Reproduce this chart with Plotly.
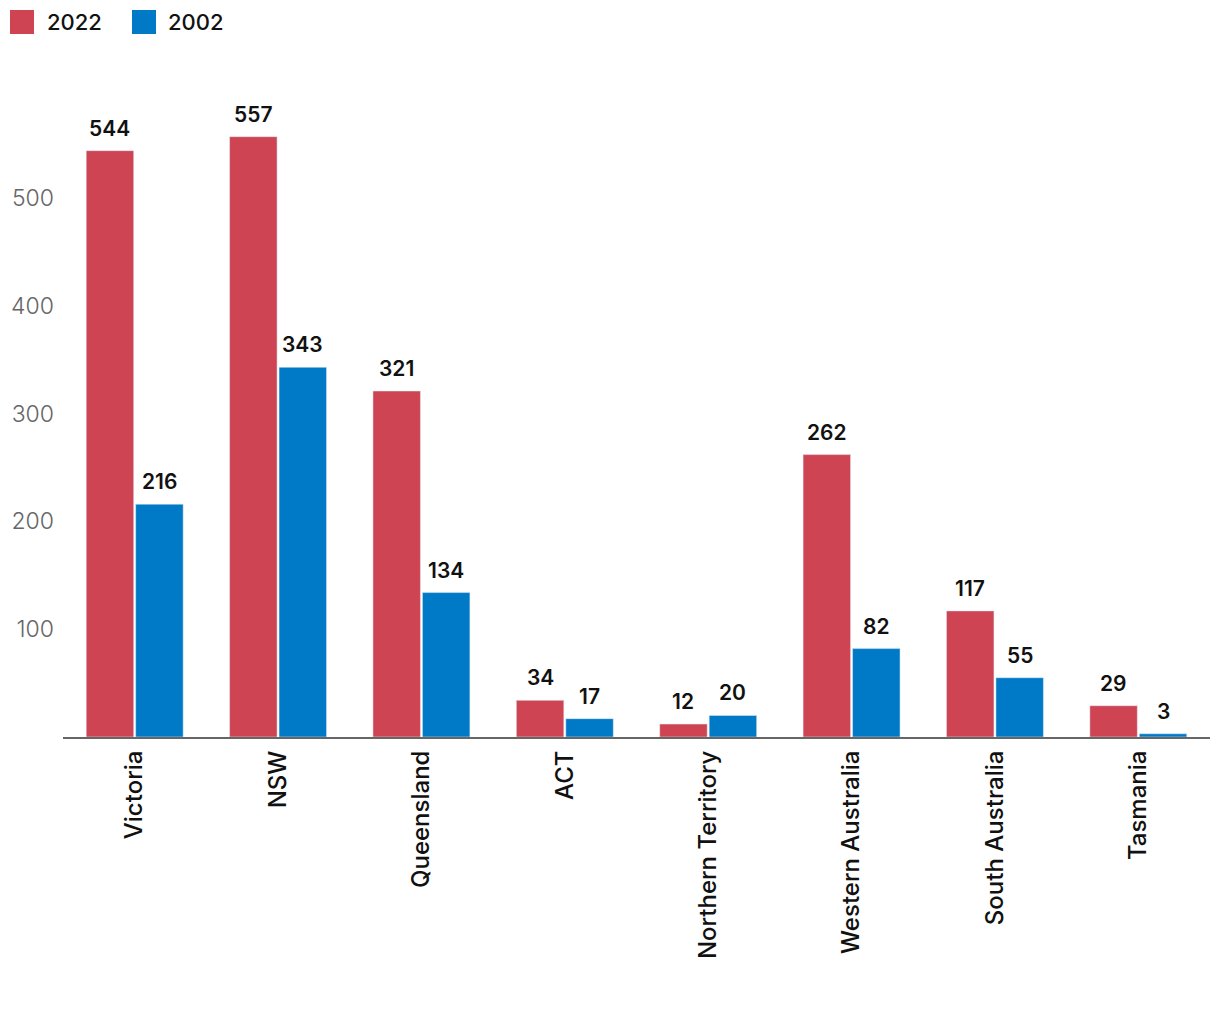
import plotly.graph_objects as go

states = ["Victoria", "NSW", "Queensland", "ACT", "Northern Territory",
          "Western Australia", "South Australia", "Tasmania"]
values_2022 = [544, 557, 321, 34, 12, 262, 117, 29]
values_2002 = [216, 343, 134, 17, 20, 82, 55, 3]
y_ticks = [100, 200, 300, 400, 500]
series_names = ["2022", "2002"]

RED = "#CE4453"
BLUE = "#0079C6"
FONT = "Inter"
BARGAP = 0.31
GROUPGAP = 0.04

fig = go.Figure()
series = [values_2022, values_2002]
colors = [RED, BLUE]
for name, vals, col in zip(series_names, series, colors):
    fig.add_trace(go.Bar(
        name=name, x=states, y=vals, marker_color=col,
        showlegend=False, hovertemplate="%{x}: %{y}<extra>" + name + "</extra>",
    ))

# value labels above each bar, placed at the grouped-bar centre positions
slot = (1 - BARGAP) / len(series)
for k, vals in enumerate(series):
    off = -(1 - BARGAP) / 2 + slot * (k + 0.5)
    for i, v in enumerate(vals):
        fig.add_annotation(x=i + off, y=v, xref="x", yref="y", text=str(v),
                           showarrow=False, xanchor="center", yanchor="bottom",
                           yshift=8,
                           font=dict(family=FONT, size=21, color="#111", weight=600))

# Page body has an 8px margin: figure size shrunk by 8 so the plot lands where the reference has it.
W, H = 1212, 1006
ML, MR, MT, MB = 55, 10, 92, 277
plot_w = W - ML - MR
plot_h = H - MT - MB
ox, oy = 8 + ML, 8 + MT + plot_h  # page px of paper (0,0)

def px_x(p):
    return (p - ox) / plot_w

def px_y(p):
    return (oy - p) / plot_h

# custom legend (large square swatches)
legend_items = [("2022", RED, 10, 45), ("2002", BLUE, 132, 166)]
for label, col, sx, tx in legend_items:
    fig.add_shape(type="rect", xref="paper", yref="paper",
                  x0=px_x(sx), x1=px_x(sx + 24), y0=px_y(34), y1=px_y(10),
                  fillcolor=col, line_width=0)
    fig.add_annotation(xref="paper", yref="paper", x=px_x(tx), y=px_y(22),
                       xanchor="left", yanchor="middle", showarrow=False,
                       text=label, font=dict(family=FONT, size=22, color="#111", weight=500))

fig.update_layout(
    width=W, height=H,
    barmode="group", bargap=BARGAP, bargroupgap=GROUPGAP,
    plot_bgcolor="white", paper_bgcolor="white",
    margin=dict(l=ML, r=MR, t=MT, b=MB, autoexpand=False),
    font=dict(family=FONT, color="#111"),
    showlegend=False,
)
fig.update_xaxes(
    tickangle=-90, showgrid=False, showline=True, linecolor="#666", linewidth=2,
    tickfont=dict(family=FONT, size=24, color="#111", weight=500), ticks="",
    ticklabelstandoff=2,
)
fig.update_yaxes(
    range=[0, 591], tickvals=y_ticks, showgrid=False, zeroline=False,
    showline=False, ticks="", ticklabelstandoff=8,
    tickfont=dict(family=FONT, size=23, color="#666", weight=300),
)

fig.write_html("out.html")
